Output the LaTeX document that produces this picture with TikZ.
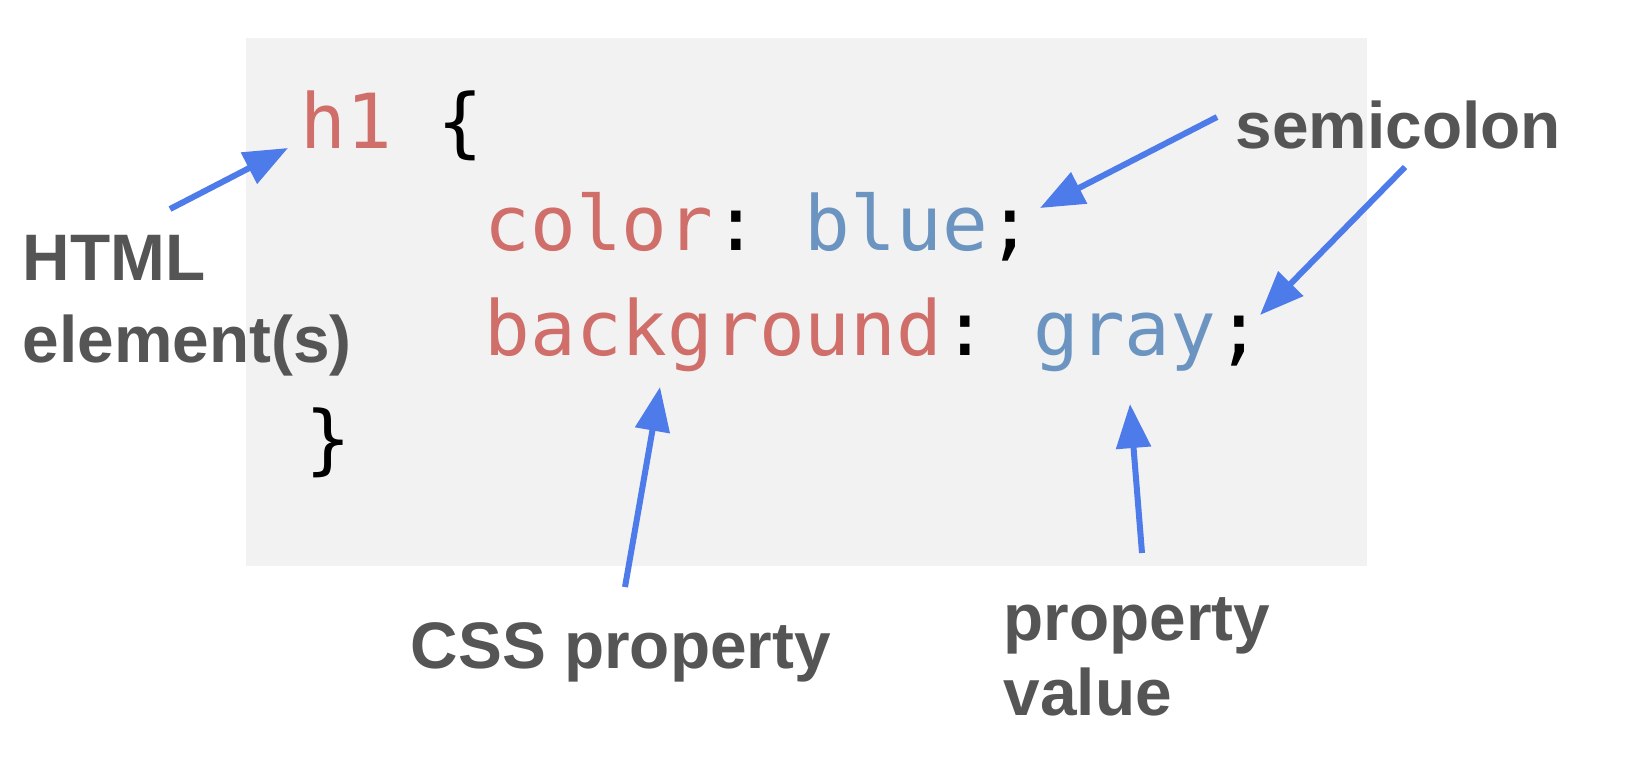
\documentclass[tikz,border=0pt]{standalone}
\usepackage{fontspec}
\setmainfont{Liberation Sans}
\setsansfont{Liberation Sans}
\setmonofont{DejaVu Sans Mono}
\usepackage{xcolor}
\usetikzlibrary{arrows.meta}
\definecolor{codered}{HTML}{D06E6A}
\definecolor{codeblue}{HTML}{6C94C0}
\definecolor{labelgray}{HTML}{555555}
\definecolor{arrowblue}{HTML}{4D7BE9}
\definecolor{boxgray}{HTML}{F2F2F2}

\begin{document}
\begin{tikzpicture}[x=0.01cm,y=-0.01cm,
    code/.style={anchor=base west,inner sep=0pt,font=\ttfamily\fontsize{21.6}{26}\selectfont},
    lbl/.style={anchor=base west,inner sep=0pt,text=labelgray,font=\sffamily\bfseries\fontsize{18.7}{23}\selectfont},
    pointer/.style={arrowblue,line width=0.06cm,-{Triangle[length=0.44cm,width=0.34cm]}}]
        \useasboundingbox (0,0) rectangle (1640,778);
        \fill[boxgray] (246,38) rectangle (1367,566);
        % the rule
        \node[code] (sel) at (300,148) {\textcolor{codered}{h1} \{};
        \node[code] (prop1) at (484,250) {\textcolor{codered}{color}: \textcolor{codeblue}{blue};};
        \node[code] (prop2) at (484,355) {\textcolor{codered}{background}: \textcolor{codeblue}{gray};};
        \node[code] (close) at (305,465) {\}};
        % the labels
        \node[lbl] (html) at (22,280) {HTML};
        \node[lbl] (elem) at (22,362) {element(s)};
        \node[lbl] (semi) at (1235,148) {semicolon};
        \node[lbl] (cssprop) at (410,668) {CSS property};
        \node[lbl] (propv) at (1003,640) {property};
        \node[lbl] (val) at (1003,715) {value};
        % arrow ends
        \coordinate (a1) at (170,209); \coordinate (b1) at (288,148);
        \coordinate (a2) at (1217,117); \coordinate (b2) at (1040,208);
        \coordinate (a3) at (1405,167); \coordinate (b3) at (1260,315);
        \coordinate (a4) at (625,587); \coordinate (b4) at (660,387);
        \coordinate (a5) at (1142,553); \coordinate (b5) at (1130,404);
        \draw[pointer] (a1) -- (b1);
        \draw[pointer] (a2) -- (b2);
        \draw[pointer] (a3) -- (b3);
        \draw[pointer] (a4) -- (b4);
        \draw[pointer] (a5) -- (b5);
    \end{tikzpicture}
\end{document}
